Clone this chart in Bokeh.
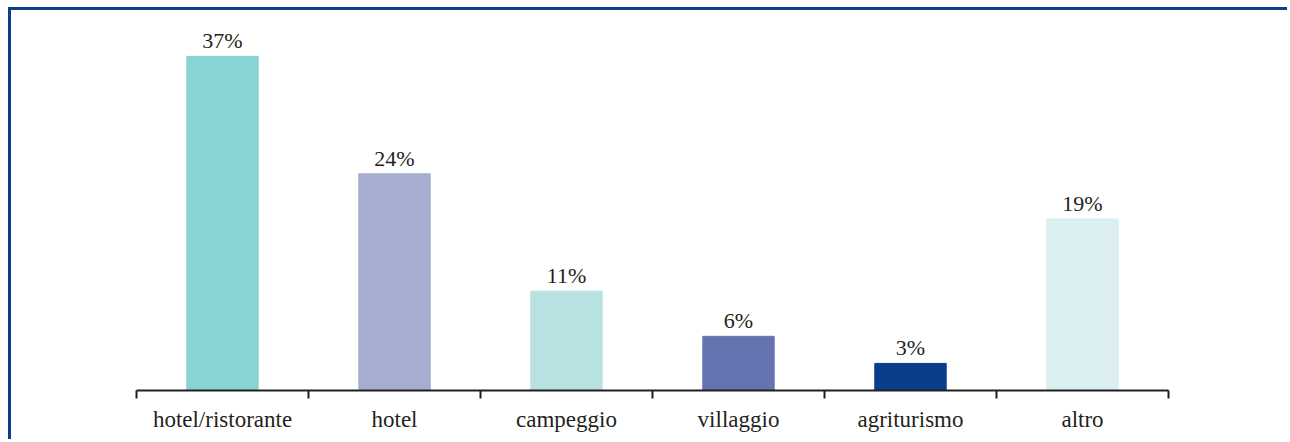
from bokeh.plotting import figure
from bokeh.models import ColumnDataSource, Range1d, FixedTicker
from bokeh.core.properties import value
from bokeh.embed import file_html
from bokeh.resources import INLINE

categories = ["hotel/ristorante", "hotel", "campeggio", "villaggio", "agriturismo", "altro"]
values = [37, 24, 11, 6, 3, 19]
labels = ["37%", "24%", "11%", "6%", "3%", "19%"]
colors = ["#88d3d4", "#a5add0", "#b8e2e2", "#6574b0", "#0a3d8a", "#dbeff0"]

xs = [i + 0.5 for i in range(len(categories))]
src = ColumnDataSource(dict(x=xs, top=values, lab=labels, color=colors))

p = figure(width=1279, height=432, output_backend="svg", toolbar_location=None,
           x_range=Range1d(0, len(categories)), y_range=Range1d(0, 42.08),
           min_border_left=125, min_border_right=122, min_border_top=0, min_border_bottom=52)
p.margin = (7, 0, 0, 8)
p.styles = {"border-left": "3px solid #0d3e8c", "border-top": "3px solid #0d3e8c"}
p.outline_line_color = None
p.grid.visible = False
p.yaxis.visible = False

p.vbar(x="x", top="top", width=0.415, color="color", source=src)
p.text(x="x", y="top", text="lab", source=src, text_align="center", text_baseline="bottom",
       y_offset=-3, text_font=value("Liberation Serif"), text_font_size="22px", text_color="#231f20")

ax = p.xaxis[0]
ax.ticker = FixedTicker(ticks=xs, minor_ticks=list(range(len(categories) + 1)))
ax.major_label_overrides = {x: c for x, c in zip(xs, categories)}
ax.major_tick_line_color = None
ax.minor_tick_line_color = "#231f20"
ax.minor_tick_line_width = 2
ax.minor_tick_out = 8
ax.minor_tick_in = 0
ax.axis_line_color = "#231f20"
ax.axis_line_width = 2
ax.major_label_text_font = "Liberation Serif"
ax.major_label_text_font_size = "23px"
ax.major_label_text_color = "#231f20"
ax.major_label_standoff = 8

open("out.html", "w").write(file_html(p, INLINE))
